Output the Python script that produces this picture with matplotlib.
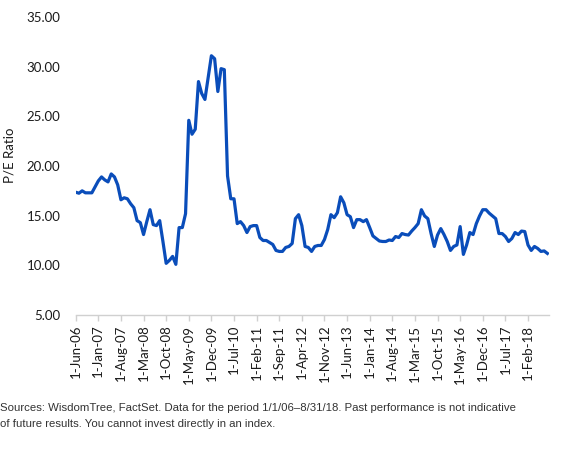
import matplotlib
matplotlib.use("Agg")
import matplotlib.pyplot as plt
import numpy as np

# Monthly P/E ratio, Jun-2006 .. Aug-2018
pe_ratio = [
    17.36, 17.26, 17.5, 17.3, 17.3, 17.3, 17.9, 18.5, 18.9, 18.6,
    18.4, 19.2, 18.9, 18.1, 16.6, 16.8, 16.7, 16.2, 15.8, 14.5,
    14.3, 13.1, 14.4, 15.6, 14.1, 14.0, 14.5, 12.4, 10.2, 10.5,
    10.9, 10.1, 13.8, 13.8, 15.2, 24.6, 23.2, 23.7, 28.5, 27.3,
    26.7, 28.9, 31.1, 30.8, 27.5, 29.8, 29.7, 19.0, 16.7, 16.7,
    14.2, 14.4, 14.0, 13.3, 13.9, 14.0, 14.0, 12.8, 12.5, 12.5,
    12.3, 12.1, 11.5, 11.4, 11.4, 11.8, 11.9, 12.2, 14.7, 15.1,
    14.0, 11.9, 11.8, 11.4, 11.9, 12.0, 12.0, 12.6, 13.6, 15.1,
    14.8, 15.3, 16.9, 16.3, 15.1, 14.9, 13.8, 14.6, 14.6, 14.4,
    14.6, 13.8, 12.96, 12.7, 12.45, 12.4, 12.4, 12.55, 12.5, 12.9,
    12.8, 13.2, 13.1, 13.05, 13.45, 13.8, 14.2, 15.6, 14.97, 14.7,
    13.2, 11.9, 13.05, 13.7, 13.1, 12.4, 11.5, 11.9, 12.05, 13.9,
    11.1, 12.05, 13.3, 13.1, 14.2, 14.97, 15.6, 15.6, 15.25, 14.97,
    14.7, 13.2, 13.2, 12.9, 12.4, 12.7, 13.3, 13.1, 13.45, 13.4,
    12.05, 11.5, 11.9, 11.7, 11.4, 11.45, 11.2,
]

tick_labels = ["1-Jun-06", "1-Jan-07", "1-Aug-07", "1-Mar-08", "1-Oct-08",
               "1-May-09", "1-Dec-09", "1-Jul-10", "1-Feb-11", "1-Sep-11",
               "1-Apr-12", "1-Nov-12", "1-Jun-13", "1-Jan-14", "1-Aug-14",
               "1-Mar-15", "1-Oct-15", "1-May-16", "1-Dec-16", "1-Jul-17",
               "1-Feb-18"]
y_ticks = [5, 10, 15, 20, 25, 30, 35]
tick_step = 7  # months between labelled ticks

footer = ("Sources: WisdomTree, FactSet. Data for the period 1/1/06\u20138/31/18. "
          "Past performance is not indicative\nof future results. You cannot invest "
          "directly in an index.")

W, H = 567, 450
fig = plt.figure(figsize=(W / 100, H / 100), dpi=100)
ax = fig.add_axes([75.7 / W, 1 - 315 / H, (549 - 75.7) / W, (315 - 17) / H])

x = np.arange(len(pe_ratio))
ax.plot(x, pe_ratio, color="#0A4DBA", lw=2.3, solid_joinstyle="round")

ax.set_xlim(0, len(pe_ratio) - 0.5)
ax.set_ylim(5, 35)
ax.set_yticks(y_ticks)
ax.set_yticklabels([f"{v:.2f}" for v in y_ticks])
ax.set_xticks(np.arange(len(tick_labels)) * tick_step)
ax.set_xticklabels(tick_labels, rotation=90)

tick_font = "Lato"
for lab in ax.get_yticklabels() + ax.get_xticklabels():
    lab.set_fontfamily(tick_font)
    lab.set_fontsize(9.5)
    lab.set_color("#1a1a1a")

for s in ["top", "right", "left"]:
    ax.spines[s].set_visible(False)
ax.spines["bottom"].set_color("#d0d0d0")
ax.spines["bottom"].set_linewidth(1.0)
ax.tick_params(axis="y", length=0, pad=11)
ax.tick_params(axis="x", length=4, color="#d0d0d0", width=1.0, pad=3)

fig.text(10 / W, 1 - 155 / H, "P/E Ratio", rotation=90, ha="center", va="center",
         fontsize=9.5, family=tick_font, color="#1a1a1a")

fig.text(0.5 / W, 1 - 416 / H, footer, ha="left", va="center", fontsize=8.2,
         family="Liberation Sans", color="#333333", linespacing=1.75)

fig.savefig("out.png", dpi=100)
